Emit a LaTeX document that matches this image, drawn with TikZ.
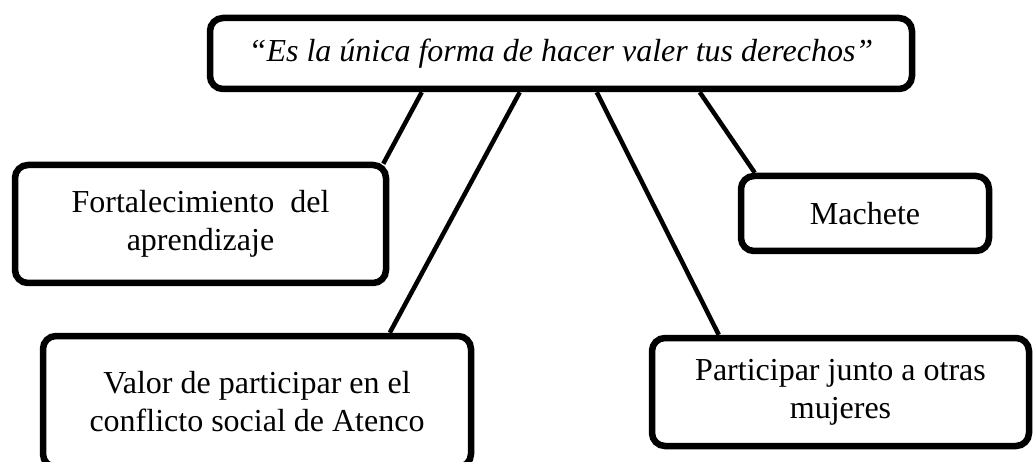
\documentclass[tikz,border=0pt]{standalone}
\usepackage{fontspec}
\setmainfont{Liberation Serif}
\usepackage{tikz}
\tikzstyle{box} = [draw, line width=6.5pt, rounded corners=13pt, align=center, inner sep=0pt, font=\fontsize{32}{38}\selectfont]
\tikzstyle{link} = [line width=4.5pt]

\begin{document}
\begin{tikzpicture}[x=1pt,y=-1pt]
                \useasboundingbox (0,0) rectangle (1033,462);
                \clip (0,0) rectangle (1033,462);
                \fill [white] (0,0) rectangle (1033,462);

                \node (top) [box, minimum width=702pt, minimum height=71pt, font=\fontsize{32}{38}\selectfont\itshape] at (561,53.5) {“Es la única forma de hacer valer tus derechos”};
                \node (fort) [box, minimum width=371pt, minimum height=118pt] at (200.5,224) {Fortalecimiento \ del\\aprendizaje};
                \node (mach) [box, minimum width=248pt, minimum height=75pt] at (865,213.5) {Machete};
                \node (valor) [box, minimum width=428pt, minimum height=131pt] at (257,401.5) {Valor de participar en el\\conflicto social de Atenco};
                \node (part) [box, minimum width=377pt, minimum height=108pt] at (840.5,392) {Participar junto a otras\\mujeres};

                \draw [link] ([xshift=215pt]top.south west) -- ([xshift=-6pt,yshift=-2pt]fort.north east);
                \draw [link] ([xshift=313pt]top.south west) -- ([xshift=350pt]valor.north west);
                \draw [link] ([xshift=390pt]top.south west) -- ([xshift=70pt]part.north west);
                \draw [link] ([xshift=493pt]top.south west) -- ([xshift=17pt]mach.north west);
            \end{tikzpicture}
\end{document}
